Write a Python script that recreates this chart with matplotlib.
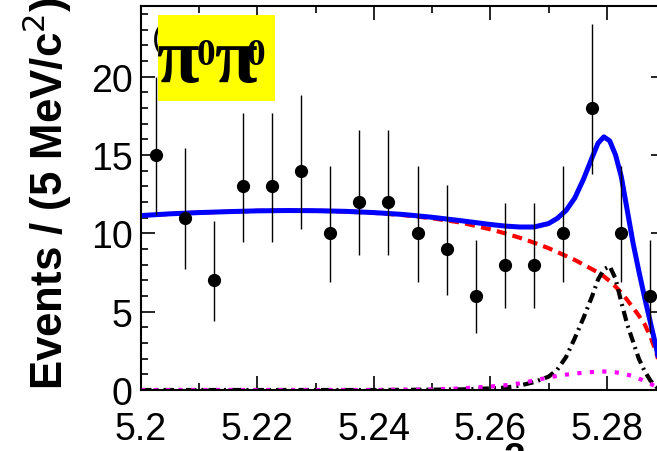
import matplotlib
matplotlib.use("Agg")
import matplotlib.pyplot as plt
from matplotlib.patches import Rectangle
from matplotlib.ticker import MultipleLocator, FuncFormatter

plt.rcParams['font.family'] = ['Liberation Sans', 'DejaVu Sans']

# data points (bin centres, counts, asymmetric poisson errors)
mes = [5.2025, 5.2075, 5.2125, 5.2175, 5.2225, 5.2275, 5.2325, 5.2375, 5.2425,
       5.2475, 5.2525, 5.2575, 5.2625, 5.2675, 5.2725, 5.2775, 5.2825, 5.2875]
counts = [15, 11, 7, 13, 13, 14, 10, 12, 12, 10, 9, 6, 8, 8, 10, 18, 10, 6]
err_lo = [3.83, 3.27, 2.58, 3.56, 3.56, 3.70, 3.11, 3.41, 3.41, 3.11, 2.94, 2.38,
          2.77, 2.77, 3.11, 4.20, 3.11, 2.38]
err_hi = [4.96, 4.42, 3.77, 4.70, 4.70, 4.83, 4.27, 4.56, 4.56, 4.27, 4.11, 3.58,
          3.95, 3.95, 4.27, 5.32, 4.27, 3.58]

# fit curves
x_fit = [5.200, 5.205, 5.210, 5.215, 5.220, 5.225, 5.230, 5.235, 5.240, 5.245,
         5.250, 5.255, 5.260, 5.2625, 5.265, 5.2675, 5.270, 5.2715, 5.273, 5.2745,
         5.276, 5.2775, 5.2785, 5.2795, 5.2805, 5.2815, 5.2825, 5.2835, 5.2845,
         5.2855, 5.2865, 5.2875, 5.2885, 5.2895, 5.290]
total = [11.13, 11.24, 11.32, 11.38, 11.43, 11.45, 11.44, 11.40, 11.32, 11.20,
         11.02, 10.80, 10.56, 10.46, 10.40, 10.40, 10.62, 10.95, 11.45, 12.25,
         13.45, 14.85, 15.75, 16.15, 15.90, 15.00, 13.60, 11.50, 9.40,
         7.60, 5.90, 4.30, 2.70, 0.90, 0.0]
bkg = [11.13, 11.24, 11.32, 11.38, 11.43, 11.45, 11.44, 11.39, 11.30, 11.16,
       10.96, 10.68, 10.25, 10.00, 9.72, 9.40, 9.05, 8.80, 8.55, 8.30,
       8.00, 7.70, 7.50, 7.25, 6.95, 6.60, 6.20, 5.75, 5.25,
       4.75, 4.20, 3.40, 2.40, 1.00, 0.0]
sig = [0.0, 0.0, 0.0, 0.0, 0.0, 0.0, 0.0, 0.0, 0.0, 0.01,
       0.02, 0.04, 0.10, 0.15, 0.28, 0.50, 0.85, 1.30, 2.10, 3.30,
       4.60, 6.00, 7.05, 7.70, 7.90, 7.10, 5.60, 4.20, 3.10,
       2.00, 1.20, 0.60, 0.20, 0.05, 0.0]
xfeed = [0.0, 0.0, 0.0, 0.0, 0.0, 0.0, 0.0, 0.0, 0.0, 0.02,
         0.04, 0.10, 0.22, 0.30, 0.42, 0.60, 0.80, 0.90, 0.98, 1.05,
         1.10, 1.15, 1.17, 1.18, 1.17, 1.13, 1.07, 0.98, 0.88,
         0.73, 0.57, 0.40, 0.20, 0.05, 0.0]

fig = plt.figure(figsize=(6.57, 4.52), dpi=100)
ax = fig.add_axes([141/657, 61/452, 524/657, 384/452])

ax.plot(x_fit, bkg, color='#ff0000', lw=3, ls=(0, (2.4, 1.5)))
ax.plot(x_fit, sig, color='black', lw=3, ls=(0, (2.5, 1.2, 0.5, 1.2)))
ax.plot(x_fit, xfeed, color='#ff00ff', lw=3, ls=(0, (1, 2)))
ax.plot(x_fit, total, color='#0000ff', lw=3.6, solid_capstyle='round')
ax.errorbar(mes, counts, yerr=[err_lo, err_hi], fmt='o', color='black',
            ms=8.5, elinewidth=1.0, capsize=0, zorder=4)

ax.set_xlim(5.2, 5.29)
ax.set_ylim(0, 24.5)
ax.xaxis.set_major_locator(MultipleLocator(0.02))
ax.xaxis.set_minor_locator(MultipleLocator(0.01))
ax.yaxis.set_major_locator(MultipleLocator(5))
ax.yaxis.set_minor_locator(MultipleLocator(1))
ax.xaxis.set_major_formatter(FuncFormatter(lambda v, p: '%g' % round(v, 3)))
ax.tick_params(which='both', direction='in', top=True, right=True, width=1.2)
ax.tick_params(which='major', length=10)
ax.tick_params(which='minor', length=5)
ax.tick_params(axis='y', labelsize=27, pad=6)
ax.tick_params(axis='x', labelsize=27, pad=15)
for s in ax.spines.values():
    s.set_linewidth(1.5)

# label box
ax.text(5.2019, 22.4, '(c)', fontsize=24, va='center', ha='left', zorder=5)
ax.add_patch(Rectangle((5.2029, 18.45), 0.0201, 5.5, facecolor='#ffff00',
                       edgecolor='none', zorder=6))
serif = ['Liberation Serif', 'DejaVu Serif']
ax.text(5.2026, 19.73, 'π', family=serif, weight='bold', fontsize=56,
        va='baseline', ha='left', zorder=7)
ax.text(5.2096, 20.82, '0', family=serif, weight='bold', fontsize=27,
        va='baseline', ha='left', zorder=7)
ax.text(5.2126, 19.73, 'π', family=serif, weight='bold', fontsize=56,
        va='baseline', ha='left', zorder=7)
ax.text(5.2182, 20.82, '0', family=serif, weight='bold', fontsize=27,
        va='baseline', ha='left', zorder=7)

fig.text(63/657, 62/452, 'Events / (5 MeV/c$^2$)', rotation=90,
         rotation_mode='anchor', ha='left', va='baseline', fontsize=31.5,
         weight='bold')
fig.text(514/657, 1 - 442/452, '2', ha='center', va='top', fontsize=28,
         weight='bold')

fig.savefig('out.png', dpi=100)
